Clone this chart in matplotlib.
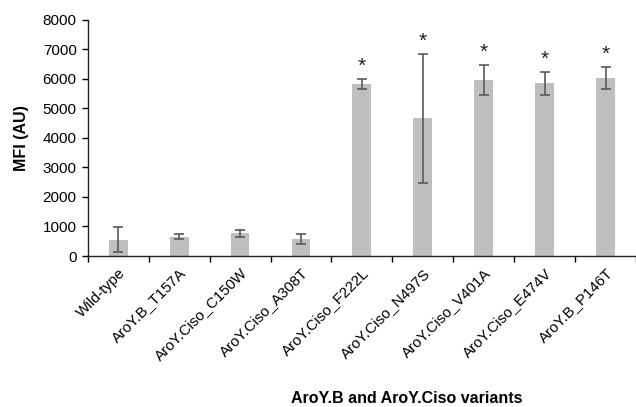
import matplotlib
matplotlib.use("Agg")
import matplotlib.pyplot as plt
import numpy as np

plt.rcParams['font.family'] = ['Liberation Sans', 'DejaVu Sans']

categories = ["Wild-type", "AroY.B_T157A", "AroY.Ciso_C150W", "AroY.Ciso_A308T",
              "AroY.Ciso_F222L", "AroY.Ciso_N497S", "AroY.Ciso_V401A",
              "AroY.Ciso_E474V", "AroY.B_P146T"]
values = [550, 660, 770, 560, 5840, 4660, 5970, 5860, 6030]
errors = [430, 90, 120, 170, 170, 2180, 500, 390, 380]
significant = [False, False, False, False, True, True, True, True, True]
yticks = [0, 1000, 2000, 3000, 4000, 5000, 6000, 7000, 8000]

fig = plt.figure(figsize=(6.36, 4.07), dpi=100)
ax = fig.add_axes([0.138, 0.371, 0.862, 0.580])

x = np.arange(len(categories))
ax.bar(x, values, width=0.31, color='#bfbfbf', zorder=2)
ax.errorbar(x, values, yerr=errors, fmt='none', ecolor='#595959',
            elinewidth=1.2, capsize=3.5, capthick=1.2, zorder=3)
for xi, v, e, s in zip(x, values, errors, significant):
    if s:
        ax.text(xi, v + e + 100, '*', ha='center', va='bottom', fontsize=15,
                color='#222222')

ax.set_ylim(0, 8000)
ax.set_xlim(-0.5, 8.4)
ax.set_yticks(yticks)
ax.set_yticklabels([str(t) for t in yticks], fontsize=11)
ax.set_xticks(np.arange(len(categories) + 1) - 0.5, minor=False)
ax.set_xticklabels([])
ax.set_xticks(x, minor=True)
ax.set_xticklabels(categories, minor=True, rotation=45, ha='right',
                   rotation_mode='anchor', fontsize=10.8)
ax.tick_params(axis='x', which='minor', length=0, pad=7)
ax.tick_params(axis='x', which='major', length=4, width=1, direction='out')
ax.tick_params(axis='y', length=4, width=1, direction='out', pad=4)

for sp in ['top', 'right']:
    ax.spines[sp].set_visible(False)
for sp in ['left', 'bottom']:
    ax.spines[sp].set_linewidth(1)
    ax.spines[sp].set_color('#222222')

ax.set_ylabel('MFI (AU)', fontsize=11.5, fontweight='bold', labelpad=10)
fig.text(0.64, 0.003, 'AroY.B and AroY.Ciso variants', ha='center',
         va='bottom', fontsize=11.5, fontweight='bold')

fig.savefig('out.png', dpi=100)
